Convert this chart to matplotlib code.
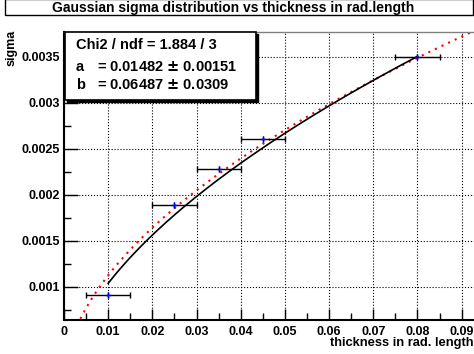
import numpy as np
import matplotlib
matplotlib.use('Agg')
import matplotlib.pyplot as plt
from matplotlib.patches import Rectangle
from matplotlib.ticker import MultipleLocator

plt.rcParams['font.family'] = ['Liberation Sans', 'DejaVu Sans']
plt.rcParams['font.weight'] = 'bold'

# measured points
thickness = [0.01, 0.025, 0.035, 0.045, 0.08]
thickness_err = [0.005, 0.005, 0.005, 0.005, 0.005]
sigma = [0.000913, 0.00189, 0.00228, 0.00261, 0.0035]
sigma_err = [0.00003, 0.00003, 0.00003, 0.00003, 0.00003]

# fit results (black) and reference curve (red)
fit_a, fit_b = 0.01482, 0.06487
ref_a, ref_b = 0.01365, 0.038

xticks = [0, 0.01, 0.02, 0.03, 0.04, 0.05, 0.06, 0.07, 0.08, 0.09]
xticklabels = ['0', '0.01', '0.02', '0.03', '0.04', '0.05', '0.06', '0.07', '0.08', '0.09']
yticks = [0.001, 0.0015, 0.002, 0.0025, 0.003, 0.0035]
yticklabels = ['0.001', '0.0015', '0.002', '0.0025', '0.003', '0.0035']


def highland(x, a, b):
    return a * np.sqrt(x) * (1 + b * np.log(x))


fig = plt.figure(figsize=(4.74, 3.54), dpi=100)
ax = fig.add_axes([64 / 474, 1 - 320 / 354, 1 - 64 / 474, 288 / 354])
ax.set_xlim(0, 0.0928)
ax.set_ylim(0.000641, 0.00377)

ax.grid(True, which='major', color='black', linestyle=':', linewidth=0.8)
ax.set_axisbelow(True)

xx = np.linspace(0.003, 0.0928, 300)
ax.plot(xx, highland(xx, ref_a, ref_b), color='red', linestyle=(0, (1, 2.5)), linewidth=1.5)
xf = np.linspace(0.01, 0.08, 200)
ax.plot(xf, highland(xf, fit_a, fit_b), color='black', linewidth=1.2)

ax.errorbar(thickness, sigma, xerr=thickness_err, fmt='none',
            ecolor='black', elinewidth=1.0, capsize=2)
ax.errorbar(thickness, sigma, yerr=sigma_err, fmt='none',
            ecolor='black', elinewidth=1.0, capsize=0)
ax.plot(thickness, sigma, linestyle='none', marker='+', color='blue', markersize=5)

ax.set_xticks(xticks)
ax.set_xticklabels(xticklabels, fontsize=9, fontweight='bold')
ax.set_yticks(yticks)
ax.set_yticklabels(yticklabels, fontsize=9, fontweight='bold')
ax.xaxis.set_minor_locator(MultipleLocator(0.005))
ax.yaxis.set_minor_locator(MultipleLocator(0.00025))
ax.tick_params(which='major', direction='in', length=8, width=1.0, pad=4)
ax.tick_params(which='minor', direction='in', length=5, width=1.0)
ax.tick_params(axis='y', which='major', length=10, pad=3)
ax.tick_params(top=False, right=False)

ax.spines['right'].set_visible(False)
ax.spines['top'].set_color('gray')
ax.spines['top'].set_linewidth(1.0)
ax.spines['left'].set_linewidth(1.5)
ax.spines['bottom'].set_linewidth(1.5)

# stats box
sx0, sx1 = 65 / 474, 256 / 474
sy0, sy1 = 1 - 100 / 354, 1 - 32 / 354
fig.patches.append(Rectangle((sx0 + 2 / 474, sy0 - 2 / 354), sx1 - sx0, sy1 - sy0,
                             transform=fig.transFigure, facecolor='black',
                             edgecolor='black', zorder=5))
fig.patches.append(Rectangle((sx0, sy0), sx1 - sx0, sy1 - sy0,
                             transform=fig.transFigure, facecolor='white',
                             edgecolor='black', linewidth=1.2, zorder=6))
fig.text(76 / 474, 1 - 45 / 354, 'Chi2 / ndf = 1.884 / 3', fontsize=10.5,
         fontweight='bold', va='center', zorder=7)
fig.text(76 / 474, 1 - 67 / 354, 'a', fontsize=10.5, fontweight='bold', va='center', zorder=7)
fig.text(97 / 474, 1 - 67 / 354, '= 0.01482 $\\pm$ 0.00151', fontsize=10.5,
         fontweight='bold', va='center', zorder=7)
fig.text(76 / 474, 1 - 85 / 354, 'b', fontsize=10.5, fontweight='bold', va='center', zorder=7)
fig.text(97 / 474, 1 - 85 / 354, '= 0.06487 $\\pm$ 0.0309', fontsize=10.5,
         fontweight='bold', va='center', zorder=7)

# title box
fig.patches.append(Rectangle((5 / 474, 1 - 15 / 354), 468 / 474, 16 / 354,
                             transform=fig.transFigure, facecolor='white',
                             edgecolor='black', linewidth=1.0))
fig.text(233 / 474, 1 - 8 / 354, 'Gaussian sigma distribution vs thickness in rad.length',
         fontsize=10, fontweight='bold', ha='center', va='center')

fig.text(473 / 474, 1 - 343 / 354, 'thickness in rad. length', fontsize=9.3,
         fontweight='bold', ha='right', va='center')
fig.text(12 / 474, 1 - 30 / 354, 'sigma', fontsize=9, fontweight='bold',
         rotation=90, ha='center', va='top')

fig.savefig('out.png', dpi=100)
